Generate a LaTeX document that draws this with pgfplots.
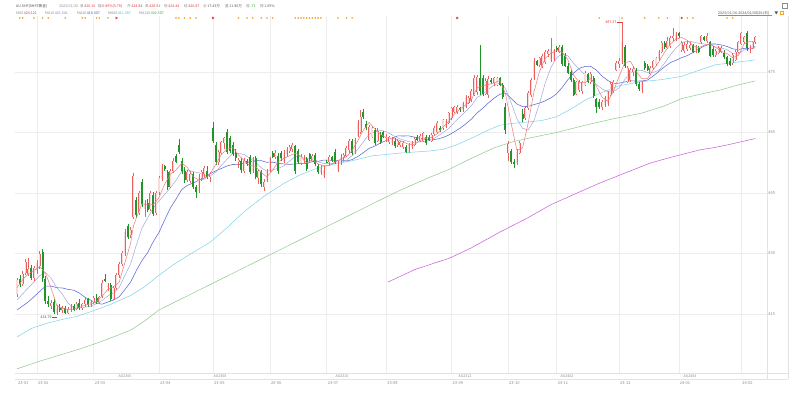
\documentclass[border=0pt]{standalone}
\usepackage{fontspec}
\usepackage{pgfplots}
\usepackage{pgfplotstable}
\pgfplotsset{compat=1.18}
\newfontfamily\cjk{Noto Sans CJK SC}
\definecolor{upred}{HTML}{EC5F5F}
\definecolor{upfill}{HTML}{FBDADA}
\definecolor{dngreen}{HTML}{21952A}
\definecolor{maFive}{HTML}{F07A7A}
\definecolor{maTen}{HTML}{A3A6DC}
\definecolor{maTwenty}{HTML}{5A68D8}
\definecolor{maSixty}{HTML}{7DD3EA}
\definecolor{maOneTwenty}{HTML}{8ACB8A}
\definecolor{maPurple}{HTML}{C45AD8}
\definecolor{gridc}{HTML}{EDEDED}
\definecolor{linec}{HTML}{E2E2E2}
\definecolor{labc}{HTML}{8C8C8C}
\definecolor{txtdark}{HTML}{555555}
\definecolor{valred}{HTML}{E03A3A}
\definecolor{valgreen}{HTML}{1E9E1E}
\definecolor{markc}{HTML}{F5A623}
\definecolor{hdrTen}{HTML}{6A8AD0}
\definecolor{hdrTwenty}{HTML}{3355EE}
\definecolor{hdrSixty}{HTML}{2EC4E8}
\definecolor{hdrOneTwenty}{HTML}{3CAA3C}
\newcommand\hdr{\cjk\fontsize{3.6}{4}\selectfont}
\newcommand\tk{\cjk\fontsize{4}{4.5}\selectfont}
\pgfplotsset{candle/.style={draw=none, mark=none, forget plot, error bars/.cd, y dir=plus, y explicit, error mark=none}}

\pgfplotstableread[row sep=\\]{
i o h l c\\
0 420.0 424.0 419.3 423.4\\
2 422.4 425.6 421.9 425.0\\
3 425.2 428.6 424.6 427.8\\
4 424.84 428.91 424.44 426.10\\
6 424.0 427.0 423.2 426.3\\
7 426.0 428.4 425.0 427.6\\
8 427.0 430.6 426.2 429.9\\
12 417.0 418.5 416.2 417.8\\
14 415.3 417.2 414.79 416.6\\
16 415.9 417.0 415.2 416.5\\
18 415.2 416.8 414.9 416.3\\
19 416.2 417.4 415.6 416.9\\
21 416.2 418.0 415.9 417.6\\
23 416.4 417.8 416.0 417.4\\
24 417.5 418.9 416.8 418.5\\
26 417.2 418.4 416.8 418.0\\
27 418.0 419.4 417.5 419.0\\
29 418.0 419.5 417.5 419.3\\
30 419.4 423.4 419.0 422.8\\
32 421.6 422.8 420.6 422.3\\
34 418.8 422.0 418.4 421.5\\
35 421.5 425.2 421.0 424.6\\
36 424.6 428.0 424.0 427.4\\
37 427.3 430.5 427.0 430.0\\
38 430.0 436.0 429.5 435.3\\
40 434.5 436.5 433.8 435.8\\
41 439.0 450.0 438.6 449.2\\
43 440.0 445.6 439.6 445.0\\
45 441.0 443.2 439.0 442.6\\
47 441.0 445.6 440.6 445.0\\
49 440.0 445.5 439.6 445.0\\
50 445.2 449.2 444.6 448.6\\
51 448.6 452.2 448.0 451.6\\
54 446.6 451.0 446.2 450.4\\
55 450.4 453.6 450.0 453.0\\
60 448.2 450.8 447.8 450.2\\
61 448.0 450.4 447.4 449.8\\
64 445.6 449.6 445.0 449.0\\
65 448.6 450.8 448.0 450.2\\
66 449.6 451.6 449.0 451.2\\
68 449.0 450.2 447.8 449.6\\
71 452.6 455.6 452.0 455.2\\
72 455.0 458.0 454.6 457.6\\
73 457.4 459.0 456.0 458.6\\
78 452.6 453.6 451.2 453.2\\
80 450.4 453.6 450.0 453.0\\
83 450.4 454.0 450.0 453.6\\
85 448.6 451.0 447.2 450.4\\
87 446.4 448.4 445.4 447.8\\
88 448.0 451.0 447.6 450.6\\
89 450.6 454.0 450.2 453.6\\
91 454.0 455.6 453.4 455.0\\
94 452.8 455.6 452.4 455.0\\
95 454.6 456.4 454.0 455.8\\
96 455.4 457.0 455.0 456.4\\
97 456.0 457.4 455.2 456.8\\
100 452.4 454.6 452.0 454.0\\
101 453.0 454.4 452.4 453.8\\
104 453.0 454.6 452.6 454.2\\
107 450.0 452.0 449.4 451.4\\
108 449.2 451.6 448.6 450.8\\
110 452.6 454.4 452.0 454.0\\
113 450.8 453.0 450.2 452.6\\
114 452.4 454.6 452.0 454.0\\
115 453.8 454.8 453.0 454.4\\
116 454.2 456.6 453.8 456.2\\
117 455.6 458.4 455.0 458.0\\
119 455.0 458.6 454.6 458.2\\
120 459.2 463.0 458.8 462.4\\
121 460.0 465.6 459.6 463.8\\
124 458.2 461.8 457.8 461.4\\
125 459.0 461.6 458.6 461.0\\
127 458.0 461.0 457.6 460.4\\
130 458.6 459.6 457.6 459.0\\
131 457.6 459.2 457.2 458.8\\
132 457.4 459.0 457.0 458.6\\
134 456.8 458.4 456.4 458.0\\
135 456.8 458.0 456.4 457.6\\
136 456.4 457.8 456.0 457.4\\
138 455.2 457.4 455.0 457.0\\
139 456.4 457.8 456.0 457.4\\
140 456.9 458.8 456.6 458.4\\
142 458.0 459.6 457.6 459.2\\
143 458.0 460.2 457.6 459.8\\
146 458.0 459.8 457.6 459.4\\
147 459.6 461.6 459.2 461.2\\
148 460.0 462.8 459.6 462.4\\
150 461.0 463.4 460.6 463.0\\
151 461.4 463.4 461.0 462.8\\
152 462.4 465.2 462.0 464.8\\
153 463.6 466.4 463.2 466.0\\
154 465.2 466.6 464.8 466.2\\
155 465.0 466.8 464.6 466.4\\
157 465.6 467.6 465.2 467.2\\
158 466.4 469.2 466.0 468.8\\
159 467.4 469.0 467.0 468.6\\
160 468.0 470.8 467.6 470.4\\
161 469.4 474.2 469.0 473.6\\
162 470.0 474.2 469.4 473.8\\
165 469.6 473.4 469.2 472.8\\
166 469.4 474.0 468.6 473.2\\
168 472.2 473.8 471.6 473.4\\
169 471.8 473.8 471.4 473.6\\
173 455.0 458.0 453.0 457.2\\
176 452.4 455.8 452.0 455.2\\
177 455.0 457.8 454.6 457.4\\
179 463.6 466.4 463.2 466.0\\
180 466.0 470.2 465.6 469.8\\
181 469.2 473.4 468.8 473.0\\
182 473.4 478.4 473.0 477.8\\
184 476.8 478.8 476.2 478.4\\
185 476.4 479.4 476.0 479.0\\
186 477.4 480.4 477.0 480.0\\
187 479.4 480.6 478.8 480.2\\
188 477.8 483.4 477.4 480.6\\
189 478.2 480.8 477.8 480.4\\
191 480.0 481.6 479.6 481.2\\
197 469.6 472.8 469.2 472.4\\
198 470.6 473.0 470.0 472.6\\
199 470.2 472.8 469.6 472.4\\
200 471.8 475.2 471.4 474.8\\
202 472.4 475.0 472.0 474.6\\
206 466.2 468.0 465.6 467.6\\
207 466.8 469.0 466.4 468.6\\
208 467.0 470.4 466.6 470.0\\
209 469.4 472.4 469.0 472.0\\
210 470.2 473.0 469.8 472.6\\
211 475.6 477.6 475.2 477.2\\
212 477.0 478.4 476.0 477.8\\
213 477.8 487.27 477.0 482.4\\
215 472.6 476.4 472.2 476.0\\
216 473.0 476.0 472.6 475.6\\
217 475.0 476.4 474.0 475.8\\
220 470.6 472.8 469.8 472.4\\
223 474.6 476.4 474.2 476.0\\
224 476.0 478.0 475.6 477.6\\
225 477.0 478.8 476.6 478.4\\
226 478.2 480.4 477.8 480.0\\
227 480.0 482.6 479.6 482.2\\
229 481.0 483.6 480.6 482.6\\
230 481.4 483.8 481.0 483.4\\
231 483.4 485.9 482.8 484.0\\
232 483.0 484.8 482.6 484.4\\
234 480.4 482.6 480.0 482.2\\
235 480.2 482.4 479.8 481.8\\
236 480.6 482.6 480.2 482.0\\
237 481.0 482.4 480.4 481.8\\
239 480.2 481.8 479.8 481.4\\
241 482.4 484.2 482.0 483.8\\
243 482.6 484.6 482.2 484.0\\
246 479.2 480.6 478.8 480.2\\
247 479.8 481.4 479.4 481.0\\
248 480.0 481.4 479.6 481.0\\
252 477.2 479.6 476.8 479.2\\
253 478.0 480.4 477.6 480.0\\
254 480.0 482.8 479.6 482.4\\
255 482.0 485.0 481.6 484.6\\
256 482.4 484.0 482.0 483.6\\
258 480.6 481.6 479.8 481.2\\
259 481.0 482.8 480.6 482.4\\
260 482.4 484.0 482.0 483.6\\
}\upT

\pgfplotstableread[row sep=\\]{
i o h l c\\
1 423.6 424.6 421.8 422.5\\
5 426.5 427.2 423.4 423.9\\
9 430.3 431.0 423.0 423.8\\
10 423.6 424.4 417.6 418.3\\
11 418.3 419.5 416.8 417.4\\
13 418.0 418.8 415.0 415.4\\
15 416.4 417.6 415.4 415.9\\
17 416.6 417.0 414.9 415.2\\
20 417.0 417.6 415.8 416.1\\
22 417.8 418.6 416.0 416.4\\
25 418.6 419.0 416.8 417.2\\
28 419.0 420.0 417.6 418.0\\
31 423.6 424.8 423.0 423.3\\
33 422.2 422.6 418.2 418.8\\
39 436.8 437.4 433.5 434.0\\
42 443.2 444.0 438.8 439.5\\
44 447.6 448.4 441.6 442.2\\
46 442.4 443.6 440.4 440.9\\
48 444.6 445.2 439.2 439.8\\
52 451.6 452.0 450.4 451.0\\
53 450.2 450.8 445.8 446.4\\
56 454.2 454.6 452.4 452.8\\
57 457.0 458.4 454.6 455.2\\
58 453.0 453.6 449.8 450.4\\
59 450.4 451.4 447.4 448.2\\
62 449.6 450.2 446.0 446.6\\
63 446.4 447.0 443.8 445.3\\
67 450.4 451.6 448.4 449.0\\
69 461.0 462.6 457.4 458.0\\
70 457.0 457.6 452.0 452.6\\
74 460.0 460.8 454.6 455.2\\
75 458.6 459.2 454.8 455.4\\
76 456.8 457.6 454.2 454.6\\
77 455.0 455.8 453.0 453.6\\
79 453.0 453.6 450.0 450.6\\
81 453.0 453.5 451.6 452.2\\
82 454.0 454.4 449.6 450.2\\
84 453.6 454.2 448.4 448.9\\
86 450.2 450.8 446.6 447.2\\
90 455.0 455.4 453.6 454.0\\
92 454.2 454.8 449.8 450.4\\
93 454.8 455.4 453.0 453.6\\
98 456.6 457.0 449.8 450.4\\
99 455.4 456.0 452.2 452.8\\
102 453.4 454.0 450.4 451.0\\
103 454.6 455.0 452.8 453.4\\
105 454.4 455.0 451.6 452.2\\
106 451.6 452.2 449.6 450.2\\
109 452.8 453.2 452.4 452.6\\
111 453.8 454.2 452.8 453.2\\
112 455.2 455.8 452.2 452.8\\
118 458.0 458.4 454.4 455.0\\
122 465.0 465.8 463.4 463.8\\
123 462.2 462.8 460.6 461.0\\
126 460.6 461.2 457.0 457.4\\
128 459.4 460.0 457.2 457.6\\
129 460.0 460.4 458.6 459.0\\
133 458.0 458.6 456.2 456.6\\
137 456.4 456.8 454.8 455.2\\
141 459.0 459.4 457.8 458.2\\
144 459.0 459.4 456.8 457.4\\
145 458.8 459.4 457.8 458.2\\
149 461.0 461.6 460.2 460.6\\
156 466.0 466.4 465.2 465.6\\
163 473.6 481.7 469.2 470.2\\
164 473.6 474.2 469.0 469.6\\
167 473.0 473.4 472.0 472.4\\
170 473.4 473.8 471.4 471.8\\
171 471.8 472.2 468.4 468.8\\
172 466.4 467.2 459.6 460.6\\
174 455.4 455.8 452.2 452.6\\
175 452.6 453.4 451.2 452.2\\
178 464.6 465.8 462.6 463.4\\
183 477.6 478.0 476.4 476.8\\
190 481.0 481.4 480.0 480.4\\
192 481.2 481.6 476.6 477.0\\
193 479.0 479.6 476.2 476.6\\
194 476.6 477.2 474.4 474.8\\
195 475.0 475.6 472.6 473.0\\
196 473.0 473.6 469.0 469.4\\
201 474.4 474.8 472.2 472.6\\
203 473.6 474.0 468.6 469.0\\
204 468.2 468.6 464.8 466.4\\
205 467.6 468.2 465.8 466.2\\
214 481.2 481.8 476.0 476.4\\
218 475.6 476.0 471.6 472.0\\
219 472.0 472.6 470.4 470.8\\
221 477.2 477.6 475.6 476.0\\
222 476.6 477.0 475.2 475.6\\
228 482.2 482.6 480.8 481.2\\
233 484.6 485.0 483.4 483.8\\
238 481.6 482.0 479.6 480.0\\
240 481.0 481.4 479.6 480.0\\
242 483.6 484.0 482.6 483.0\\
244 482.4 482.8 478.6 479.0\\
245 480.6 481.4 478.8 479.2\\
249 479.8 480.4 478.2 478.6\\
250 478.6 479.0 476.6 477.0\\
251 477.8 478.4 476.4 476.8\\
257 484.6 485.2 480.2 481.0\\
}\dnT

\begin{document}
\begin{tikzpicture}[x=1pt,y=1pt]
\useasboundingbox (0,0) rectangle (800,404);
\fill[white] (0,0) rectangle (800,404);
\begin{axis}[
  at={(15pt,31pt)}, anchor=south west,
  scale only axis, width=752pt, height=357pt,
  xmin=-0.704, xmax=264.08, ymin=400.37, ymax=488.88,
  axis line style={draw=none},
  tick style={draw=none},
  major tick length=0pt,
  xtick={7,27,50,69,89,109,130,153,173,190,212,233,255},
  xticklabels={},
  ytick={415,430,445,460,475},
  yticklabel pos=right,
  yticklabel style={font=\tk, text=labc, anchor=west, inner sep=1.2pt},
  /pgf/number format/assume math mode=true,
  xmajorgrids, ymajorgrids,
  grid style={draw=gridc, line width=0.4pt},
  clip=false,
]
% moving averages
\addplot[maPurple, line width=0.5pt, line join=round] coordinates {
(130.6,422.9) (140,426.0) (152.5,428.9) (160,431.4) (170,435.3) (180,438.9) (187.7,442.0) (195,444.3) (205.3,447.5) (215,450.2) (222.9,452.4) (230,453.8) (240.5,455.7) (245,456.2) (250,456.9) (255,457.7) (260,458.5)};
\addplot[maOneTwenty, line width=0.5pt, line join=round] coordinates {
(0,401.4) (8,403.3) (15,404.8) (22,406.3) (29,408.0) (35,409.6) (40,411.0) (45,413.3) (50,416.0) (60,419.5) (70,423.0) (80,426.5) (90,430.0) (100,433.5) (110,437.0) (120,440.5) (130,444.0) (135,445.7) (145,448.8) (152,450.8) (160,453.6) (168,456.2) (175,457.8) (183,459.0) (190,460.0) (200,461.8) (210,463.4) (220,464.8) (228,466.6) (234,468.4) (240,469.4) (248,470.6) (254,471.8) (260,472.8)};
\addplot[maSixty, line width=0.5pt, line join=round] coordinates {
(0,409.3) (5,411.4) (10,412.6) (15,413.5) (21,414.4) (27,415.8) (33,417.4) (40,419.6) (45,421.8) (50,424.6) (55,427.2) (60,429.4) (68,432.8) (74,436.4) (80,440.4) (87,444.2) (94,447.4) (100,449.6) (106,451.2) (112,452.2) (118,453.0) (125,454.2) (135,454.9) (145,455.4) (150,455.8) (155,457.0) (161,458.9) (166,460.6) (170,461.8) (175,462.3) (180,462.6) (185,463.0) (190,463.9) (195,465.8) (200,468.0) (205,469.6) (212,471.6) (220,472.6) (227,473.1) (234,473.9) (240,475.4) (246,476.8) (252,477.3) (260,478.0)};
\addplot[maTwenty, line width=0.55pt, line join=round] coordinates {
(0,416.0) (2,417.0) (4,418.0) (6,419.3) (8,420.6) (10,421.89) (12,421.94) (14,421.52) (16,421.44) (18,421.1) (20,420.89) (22,420.17) (24,419.1) (26,418.43) (28,417.62) (30,417.44) (32,417.98) (34,418.47) (36,419.29) (38,421.07) (40,422.9) (42,425.77) (44,428.25) (46,430.22) (48,432.97) (50,435.23) (52,438.35) (54,441.27) (56,443.49) (58,445.86) (60,446.9) (62,447.47) (64,448.16) (66,448.73) (68,449.8) (70,450.48) (72,451.08) (74,451.71) (76,452.07) (78,452.01) (80,452.37) (82,452.73) (84,453.02) (86,453.03) (88,452.58) (90,452.63) (92,452.36) (94,452.18) (96,452.1) (98,452.19) (100,452.37) (102,452.3) (104,452.8) (106,452.84) (108,453.16) (110,453.14) (112,452.91) (114,453.22) (116,452.92) (118,453.28) (120,454.04) (122,455.02) (124,456.08) (126,456.62) (128,457.41) (130,458) (132,458.56) (134,459.14) (136,459.13) (138,459.14) (140,458.85) (142,458.56) (144,458.25) (146,458.16) (148,458.37) (150,458.76) (152,459.34) (154,460.19) (156,461.05) (158,462.13) (160,463.33) (162,464.84) (164,466.02) (166,467.33) (168,468.51) (170,469.48) (172,469.78) (174,468.45) (176,467.08) (178,466.41) (180,466.46) (182,466.9) (184,467.3) (186,467.85) (188,468.58) (190,469.59) (192,471.2) (194,473.1) (196,474.72) (198,475.91) (200,476.38) (202,476.41) (204,475.46) (206,473.98) (208,472.9) (210,472.17) (212,472.22) (214,472.53) (216,472.83) (218,472.74) (220,472.77) (222,472.99) (224,474) (226,475.14) (228,476.27) (230,477.3) (232,477.9) (234,478.55) (236,479.05) (238,479.81) (240,480.66) (242,481.42) (244,481.93) (246,481.94) (248,481.7) (250,481.33) (252,480.74) (254,480.54) (256,480.86) (258,480.81) (260,480.99)};
\addplot[maTen, line width=0.5pt, line join=round] coordinates {
(0,418.5) (2,420.0) (4,421.5) (6,423.0) (8,424.5) (10,425.28) (12,423.87) (14,421.53) (16,419.88) (18,417.69) (20,416.49) (22,416.47) (24,416.68) (26,416.97) (28,417.54) (30,418.39) (32,419.48) (34,420.26) (36,421.6) (38,424.6) (40,427.42) (42,432.05) (44,436.24) (46,438.84) (48,441.33) (50,443.03) (52,444.64) (54,446.29) (56,448.13) (58,450.38) (60,450.76) (62,450.29) (64,450.02) (66,449.33) (68,449.21) (70,450.2) (72,451.87) (74,453.39) (76,454.81) (78,454.81) (80,454.53) (82,453.59) (84,452.64) (86,451.24) (88,450.35) (90,450.73) (92,451.12) (94,451.71) (96,452.96) (98,454.02) (100,454) (102,453.48) (104,453.88) (106,452.72) (108,452.3) (110,452.27) (112,452.33) (114,452.55) (116,453.12) (118,454.26) (120,455.81) (122,457.7) (124,459.61) (126,460.11) (128,460.56) (130,460.19) (132,459.42) (134,458.66) (136,458.14) (138,457.72) (140,457.5) (142,457.69) (144,457.83) (146,458.18) (148,459.02) (150,460.01) (152,460.99) (154,462.54) (156,463.91) (158,465.24) (160,466.65) (162,468.68) (164,469.5) (166,470.75) (168,471.78) (170,472.3) (172,470.87) (174,467.39) (176,463.41) (178,461.04) (180,460.62) (182,462.93) (184,467.21) (186,472.29) (188,476.11) (190,478.55) (192,479.47) (194,478.99) (196,477.14) (198,475.7) (200,474.2) (202,473.35) (204,471.93) (206,470.81) (208,470.1) (210,470.14) (212,471.09) (214,473.12) (216,474.84) (218,475.38) (220,475.39) (222,474.88) (224,474.88) (226,475.43) (228,477.16) (230,479.2) (232,480.91) (234,482.22) (236,482.67) (238,482.45) (240,482.12) (242,481.92) (244,481.63) (246,481.21) (248,480.94) (250,480.54) (252,479.55) (254,479.45) (256,480.5) (258,480.68) (260,481.44)};
% wicks
\addplot[candle, error bar style={draw=upred, line width=0.45pt}] table[x=i, y=l, y error plus expr=\thisrow{h}-\thisrow{l}] {\upT};
\addplot[candle, error bar style={draw=dngreen, line width=0.45pt}] table[x=i, y=l, y error plus expr=\thisrow{h}-\thisrow{l}] {\dnT};
% bodies
\addplot[candle, error bar style={draw=upred, line width=2.0pt}] table[x=i, y=o, y error plus expr=\thisrow{c}-\thisrow{o}] {\upT};
\addplot[candle, error bar style={draw=upfill, line width=1.05pt}] table[x=i, y=o, y error plus expr=\thisrow{c}-\thisrow{o}] {\upT};
\addplot[candle, error bar style={draw=dngreen, line width=2.0pt}] table[x=i, y=c, y error plus expr=\thisrow{o}-\thisrow{c}] {\dnT};
\addplot[maFive, line width=0.5pt, line join=round] coordinates {
(0,421.5) (2,423.5) (4,424.96) (6,425.82) (8,426.76) (10,425.18) (12,421.44) (14,417.1) (16,416.44) (18,416.1) (20,416.2) (22,416.66) (24,417.2) (26,417.5) (28,418.14) (30,419.42) (32,421.14) (34,421.74) (36,422.92) (38,427.76) (40,432.5) (41,436.86) (42,438.76) (44,442.34) (46,442.04) (48,442.1) (50,443.86) (52,447.2) (54,449.6) (56,450.72) (58,452.36) (60,451.36) (62,449.04) (64,448.18) (66,448.46) (68,449.8) (70,452.08) (72,454.6) (74,455.84) (76,456.28) (78,454.4) (80,453) (82,451.84) (84,451.58) (86,450.06) (88,448.98) (90,450.64) (92,452.72) (94,453.6) (96,454.24) (98,454.88) (100,454.08) (102,452.4) (104,453.28) (106,452.2) (108,451.76) (110,451.8) (112,452.68) (114,453.32) (116,454) (118,455.52) (120,457.96) (122,460.64) (124,462.48) (126,460.92) (128,459.56) (130,458.68) (132,458.6) (134,458.2) (136,457.64) (138,457.04) (140,457.08) (142,458.04) (144,458.6) (146,458.8) (148,459.72) (150,461.32) (152,462.72) (154,464.56) (156,465.8) (158,466.84) (160,468.12) (162,471.04) (164,471.52) (166,471.92) (168,472.28) (170,472.88) (172,469.64) (174,462.2) (176,455.56) (178,456.16) (180,462.36) (182,470) (184,475.16) (186,478.4) (188,479.64) (190,480.32) (192,479.92) (194,478) (196,474.16) (198,472.44) (200,472.32) (202,473.4) (204,471.48) (206,468.76) (208,467.76) (210,470.16) (212,473.92) (214,477.28) (216,477.64) (218,475.16) (220,473.32) (222,473.36) (224,475.52) (226,477.52) (228,479.88) (230,481.88) (232,483.12) (234,483.56) (236,482.84) (238,481.56) (240,481.04) (242,481.64) (244,481.96) (246,481.08) (248,480.08) (250,479.56) (252,478.52) (254,479.08) (256,481.96) (258,482.56) (260,482.36)};
% event markers
\addplot[only marks, mark=*, mark size=0.6pt, color=markc] coordinates {
(1,488.39) (2,488.39) (6,488.39) (9,488.39) (11,488.39) (17,488.39) (23,488.39) (24,488.39) (28,488.39) (29,488.39) (32,488.39)
(56,488.39) (57,488.39) (59,488.39) (61,488.39) (63,488.39)
(78,488.39) (81,488.39) (83,488.39) (86,488.39) (88,488.39) (90,488.39)
(98,488.39) (99,488.39) (100,488.39) (101,488.39) (102,488.39) (103,488.39) (104,488.39) (105,488.39) (106,488.39) (107,488.39)
(113,488.39) (116,488.39) (118,488.39)
(205,488.39) (213,488.39) (221,488.39) (226,488.39) (229,488.39) (236,488.39) (238,488.39) (250,488.39) (252,488.39)};
\addplot[only marks, mark=triangle*, mark size=1.1pt, color=valred, mark options={rotate=-90}] coordinates {
(35,488.39) (69,488.39) (155,488.39) (234,488.39)};
% extreme annotations
\draw[valred, line width=0.3pt] (axis cs:211.2,487.27) -- (axis cs:213,487.27);
\node[anchor=east, inner sep=0.3pt, font=\hdr, text=valred] at (axis cs:211.2,487.27) {487.27};
\draw[valgreen, line width=0.3pt] (axis cs:12.4,414.3) -- (axis cs:14,414.3);
\node[anchor=east, inner sep=0.3pt, font=\hdr, text=valgreen!80!black] at (axis cs:12.4,414.3) {414.79};
\end{axis}
% frame lines
\draw[linec, line width=0.4pt] (15,31) -- (788,31);
\draw[linec, line width=0.4pt] (15,24.5) -- (788,24.5);
\draw[linec, line width=0.4pt] (767,388) -- (767,24.5);
\draw[linec, line width=0.4pt] (788,388) -- (788,24.5);
% header
\begin{scope}[every node/.style={anchor=west, inner sep=0pt, font=\hdr}]
\node at (16,398) {\color{txtdark}AU.SHF(SHFE黄金)};
\node at (59,398) {\color{labc}2023/01/20};
\node at (80,398) {\color{labc}收\,\color{valred}426.10};
\node at (98,398) {\color{labc}幅\,\color{valred}0.89\%(3.78)};
\node at (127,398) {\color{labc}开\,\color{valred}424.84};
\node at (145,398) {\color{labc}高\,\color{valred}428.91};
\node at (164,398) {\color{labc}低\,\color{valred}424.44};
\node at (184,398) {\color{labc}结\,\color{valred}426.87};
\node at (203,398) {\color{labc}仓\,\color{txtdark}17.43万};
\node at (225,398) {\color{labc}量\,\color{txtdark}11.86万};
\node at (246,398) {\color{labc}增\,\color{valgreen}-71};
\node at (260,398) {\color{labc}振\,\color{txtdark}1.05\%};
\node at (16,391) {\color{labc}MA5\,\color{valred}424.121};
\node at (45,391) {\color{labc}MA10\,\color{hdrTen}421.541};
\node at (77,391) {\color{labc}MA20\,\color{hdrTwenty}418.007};
\node at (108,391) {\color{labc}MA60\,\color{hdrSixty}411.387};
\node at (139,391) {\color{labc}MA120\,\color{hdrOneTwenty}402.587};
\node at (718,391) {\color{txtdark}2023/01/16-2024/02/08(261日)};
\end{scope}
\draw[labc, line width=0.3pt] (718,388.6) -- (772,388.6);
\fill[txtdark] (774.5,392.6) -- (778,392.6) -- (776.25,389.6) -- cycle;
\draw[markc, line width=0.4pt] (780.5,389.5) rectangle (783,392.5);
\draw[labc, line width=0.4pt] (782,396) rectangle (787,401);
% contract row
\begin{scope}[every node/.style={anchor=center, inner sep=0pt, font=\cjk\fontsize{3.6}{4}\selectfont, text=labc}]
\node at (125,28) {AU2306};
\node at (220,28) {AU2308};
\node at (342,28) {AU2310};
\node at (465,28) {AU2312};
\node at (567,28) {AU2402};
\node at (690,28) {AU2404};
\end{scope}
% date row
\begin{scope}[every node/.style={anchor=west, inner sep=0pt, font=\tk, text=labc}]
\node at (18,21) {23-01};
\node at (38,21) {23-02};
\node at (94.7,21) {23-03};
\node at (160,21) {23-04};
\node at (214,21) {23-05};
\node at (270.8,21) {23-06};
\node at (327.6,21) {23-07};
\node at (387.2,21) {23-08};
\node at (452.5,21) {23-09};
\node at (509,21) {23-10};
\node at (557.6,21) {23-11};
\node at (620,21) {23-12};
\node at (679.7,21) {24-01};
\node at (742.2,21) {24-02};
\end{scope}
\end{tikzpicture}
\end{document}
